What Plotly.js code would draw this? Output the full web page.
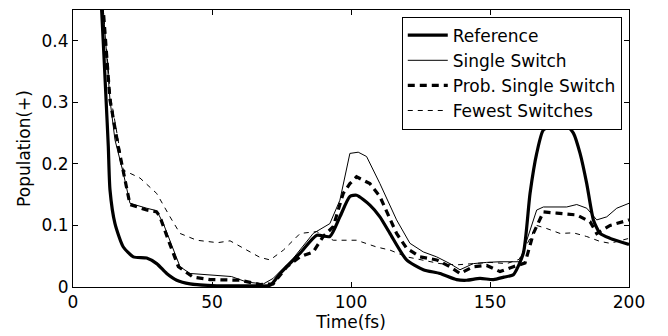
<!DOCTYPE html>
<html>
<head>
<meta charset="utf-8">
<script src="https://cdn.plot.ly/plotly-3.0.1.min.js"></script>
<style>html,body{margin:0;padding:0;background:#fff}#chart{width:668px;height:336px}</style>
</head>
<body>
<div id="chart"></div>
<script>
// Reference
const refT = [9.5, 10.3, 11.9, 12.7, 13.3, 15.1, 18.1, 21.7, 26.5, 30.1, 33.7, 37.3, 42.1, 51.7, 63.7, 71, 74.5, 81.7, 87.7, 92.4, 96, 99.6, 102, 106.8, 110.4, 114, 120, 126, 132, 138, 141.6, 146.4, 151.2, 155, 158.4, 162, 164.4, 166.8, 169.2, 172.8, 177.6, 180, 182.4, 184.8, 187.2, 189.6, 193.2, 200];
const refV = [0.5, 0.45, 0.304, 0.228, 0.158, 0.103, 0.065, 0.049, 0.047, 0.038, 0.022, 0.011, 0.005, 0.002, 0.002, 0.003, 0.022, 0.055, 0.084, 0.082, 0.114, 0.147, 0.149, 0.133, 0.114, 0.087, 0.044, 0.028, 0.022, 0.012, 0.011, 0.014, 0.012, 0.016, 0.020, 0.055, 0.152, 0.217, 0.255, 0.262, 0.262, 0.250, 0.217, 0.168, 0.109, 0.087, 0.079, 0.069];
// Single Switch
const ssT = [9.5, 10.9, 13.3, 15.1, 18.1, 20.5, 26.5, 30.1, 32.5, 36.1, 38.5, 42.1, 51.7, 57, 62.5, 68.5, 72, 79.3, 86.4, 92.4, 96, 99.6, 102.6, 105.6, 110.4, 116.4, 121.2, 126, 130.8, 135.6, 139.2, 144, 148.8, 153.6, 160.7, 163.2, 166.8, 169.2, 177.6, 181.2, 184.8, 188.4, 192, 195.6, 200];
const ssV = [0.5, 0.45, 0.304, 0.239, 0.185, 0.136, 0.128, 0.124, 0.103, 0.060, 0.033, 0.022, 0.018, 0.017, 0.008, 0.005, 0.014, 0.047, 0.087, 0.103, 0.141, 0.217, 0.219, 0.212, 0.168, 0.109, 0.071, 0.057, 0.049, 0.038, 0.028, 0.038, 0.040, 0.041, 0.041, 0.076, 0.125, 0.130, 0.130, 0.134, 0.128, 0.109, 0.114, 0.128, 0.136];
// Prob. Single Switch
const psT = [9.7, 10.9, 13.3, 16.3, 20.5, 26.5, 30.1, 31.3, 34.3, 37.9, 43.2, 49.3, 60, 67.3, 72, 76.9, 81.7, 86.4, 90, 93.6, 97.2, 99.6, 102, 106.8, 110.4, 116.4, 120, 124.8, 130.8, 135.6, 139.2, 144, 148.8, 153.6, 158.4, 162.6, 165.6, 169.2, 174, 181.2, 186, 188.4, 193.2, 200];
const psV = [0.5, 0.45, 0.304, 0.228, 0.134, 0.125, 0.122, 0.114, 0.076, 0.033, 0.016, 0.012, 0.011, 0.004, 0.005, 0.033, 0.049, 0.057, 0.082, 0.098, 0.152, 0.168, 0.179, 0.168, 0.147, 0.087, 0.063, 0.049, 0.044, 0.033, 0.022, 0.033, 0.035, 0.025, 0.033, 0.039, 0.087, 0.122, 0.120, 0.117, 0.106, 0.087, 0.100, 0.109];
// Fewest Switches
const fsT = [9.7, 10.9, 13.5, 18.1, 24.1, 30.1, 34.9, 38.5, 44.5, 48.1, 52, 56.5, 62.5, 67.3, 70.9, 75.7, 81.7, 87.7, 93.6, 102, 109.2, 114, 120, 126, 132, 138, 144, 150, 156, 160.5, 166.8, 170.4, 175.2, 180, 184.8, 189.6, 193.2, 200];
const fsV = [0.5, 0.45, 0.31, 0.19, 0.177, 0.152, 0.114, 0.087, 0.076, 0.074, 0.072, 0.075, 0.060, 0.048, 0.044, 0.060, 0.087, 0.090, 0.076, 0.076, 0.065, 0.060, 0.049, 0.044, 0.038, 0.036, 0.038, 0.040, 0.038, 0.045, 0.100, 0.095, 0.087, 0.088, 0.082, 0.074, 0.071, 0.079];

const seriesNames = ['Reference', 'Single Switch', 'Prob. Single Switch', 'Fewest Switches'];
const xTicks = [0, 50, 100, 150, 200];
const yTicks = [0, 0.1, 0.2, 0.3, 0.4];
const yTickText = ['0', '0.1', '0.2', '0.3', '0.4'];

const FONT = 'DejaVu Sans, sans-serif';
const FS = 17;
const traces = [
  {x: refT, y: refV, name: seriesNames[0], mode: 'lines', line: {color: '#000', width: 3.2, shape: 'spline', smoothing: 0.6}},
  {x: ssT, y: ssV, name: seriesNames[1], mode: 'lines', line: {color: '#000', width: 1}},
  {x: psT, y: psV, name: seriesNames[2], mode: 'lines', line: {color: '#000', width: 3.2, dash: '7px,5px'}},
  {x: fsT, y: fsV, name: seriesNames[3], mode: 'lines', line: {color: '#000', width: 1, dash: '5px,5px'}}
];

const axisCommon = {
  showgrid: false, zeroline: false, showline: true, linecolor: '#000', linewidth: 1,
  mirror: 'ticks', ticks: 'inside', ticklen: 5, tickcolor: '#000', tickwidth: 1,
  tickfont: {family: FONT, size: FS, color: '#000'}
};

const layout = {
  width: 668, height: 336,
  margin: {l: 73, r: 39, t: 10, b: 49},
  paper_bgcolor: '#fff', plot_bgcolor: '#fff',
  font: {family: FONT, size: FS, color: '#000'},
  xaxis: Object.assign({}, axisCommon, {
    range: [0, 200], tickvals: xTicks, ticktext: xTicks.map(String),
    title: {text: 'Time(fs)', font: {family: FONT, size: FS, color: '#000'}, standoff: 3}
  }),
  yaxis: Object.assign({}, axisCommon, {
    range: [0, 0.45], tickvals: yTicks, ticktext: yTickText,
    title: {text: 'Population(+)', font: {family: FONT, size: FS, color: '#000'}, standoff: 6}
  }),
  showlegend: true,
  legend: {
    x: 0.987, xanchor: 'right', y: 0.976, yanchor: 'top',
    bgcolor: '#fff', bordercolor: '#000', borderwidth: 1,
    font: {family: FONT, size: FS, color: '#000'},
    tracegroupgap: 0, itemwidth: 40
  }
};

Plotly.newPlot('chart', traces, layout, {staticPlot: true, displayModeBar: false});
</script>
</body>
</html>
